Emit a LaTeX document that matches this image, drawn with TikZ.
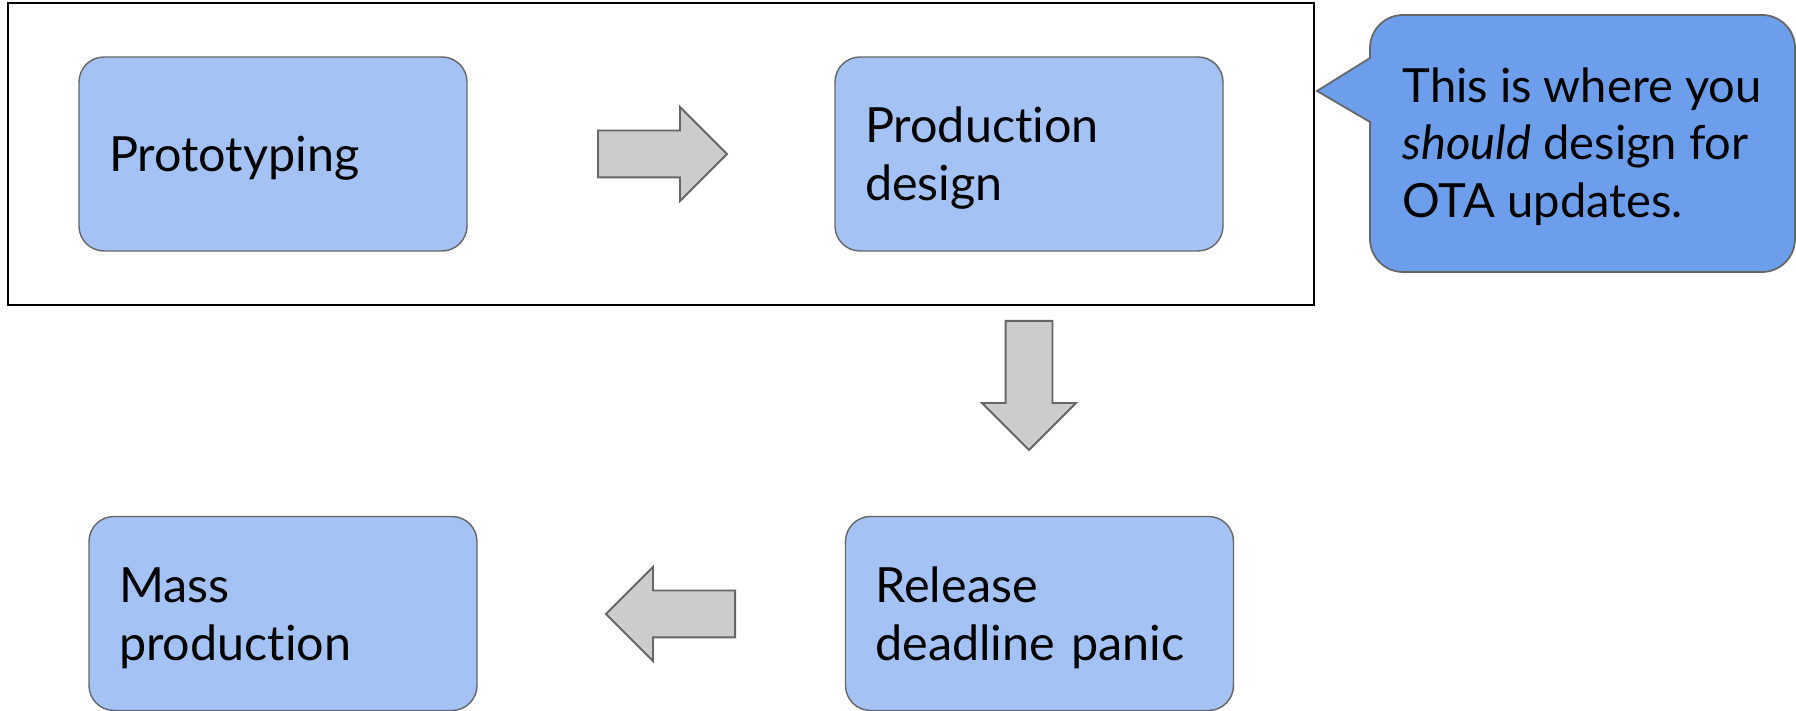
\documentclass[tikz,border=0pt]{standalone}
\usepackage{fontspec}
\setmainfont{Lato}[Ligatures=NoCommon]
\usetikzlibrary{shapes.arrows}
\definecolor{boxblue}{HTML}{A4C2F4}
\definecolor{noteblue}{HTML}{6D9EEB}
\definecolor{arrowgray}{HTML}{CCCCCC}
\definecolor{edgegray}{HTML}{666666}
\newcommand{\boxstrut}{\rule{0pt}{0.44cm}}

\begin{document}
\begin{tikzpicture}[font=\fontsize{13.4}{16.5}\selectfont]
    \useasboundingbox (0,0) rectangle (17.96,7.11);
    \draw[line width=0.7pt] (0.08,4.06) rectangle (13.14,7.08);
    \begin{scope}[every node/.style={rectangle,rounded corners=0.25cm,draw=edgegray,line width=0.4pt,fill=boxblue,minimum width=3.88cm,minimum height=1.94cm,text width=3.28cm,inner xsep=0.3cm,align=left,font=\fontsize{13.8}{16.5}\selectfont}]
        \node (proto) at (2.73,5.57) {\boxstrut Prototyping};
        \node (design) at (10.29,5.57) {\boxstrut Production\\design};
        \node (panic) at (10.395,0.975) {\boxstrut Release\\deadline panic};
        \node (mass) at (2.83,0.975) {\boxstrut Mass\\production};
    \end{scope}
    \begin{scope}[every node/.style={single arrow,anchor=tail,draw=edgegray,line width=0.55pt,fill=arrowgray,minimum height=1.29cm,inner xsep=0pt,inner ysep=0.225cm,single arrow head extend=0.235cm}]
        \node (toDesign) at (5.97,5.57) {};
        \node[rotate=-90] (toPanic) at (10.29,3.91) {};
        \node[rotate=180] (toMass) at (7.36,0.97) {};
    \end{scope}
    \draw[draw=edgegray,line width=0.5pt,fill=noteblue] (13.70,5.89) {[rounded corners=0.33cm] -- (13.70,4.39) -- (17.95,4.39) -- (17.95,6.96) -- (13.70,6.96)} -- (13.70,6.53) -- (13.17,6.20) -- cycle;
    \node[anchor=base west,align=left,inner sep=0pt] (note) at (14.02,4.93) {This is where you\\\textit{should} design for\\OTA updates.};
\end{tikzpicture}
\end{document}
